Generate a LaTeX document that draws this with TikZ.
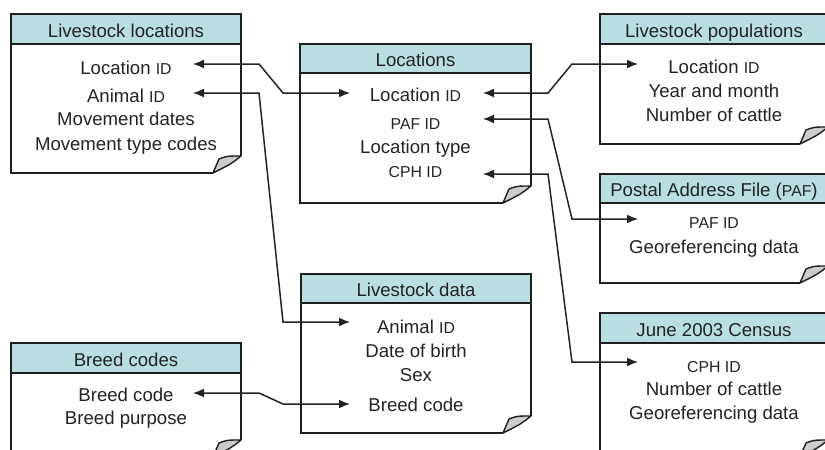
\documentclass[tikz,border=0pt]{standalone}
\usepackage{fontspec}
\setmainfont{Liberation Sans}
\usetikzlibrary{arrows.meta}
\definecolor{hdr}{RGB}{185,222,226}
\definecolor{bord}{RGB}{30,30,30}
\definecolor{ink}{RGB}{35,35,35}
\newcommand\sm[1]{{\fontsize{15.8}{16}\selectfont #1}}
\tikzset{
  boxline/.style={draw=bord, line width=2.1pt},
  row/.style={anchor=base, inner sep=0pt, font=\fontsize{18.6}{20}\selectfont, text=ink},
  link/.style={draw=ink, line width=1.5pt, {Latex[length=11pt,width=9pt]}-{Latex[length=11pt,width=9pt]}},
  foldflap/.style={fill=gray!40, draw=bord, line width=1.4pt, line join=round},
}
% #1 name, #2 L, #3 T, #4 R, #5 B, #6 header bottom, #7 title, #8 fold (1/0)
\newcommand\dbbox[8]{%
  \ifnum#8=1
    \fill[white] (#2,#3) -- (#4,#3) -- (#4,{#5-17}) -- ({#4-28},#5) -- (#2,#5) -- cycle;
  \else
    \fill[white] (#2,#3) rectangle (#4,#5);
  \fi
  \fill[hdr] (#2,#3) rectangle (#4,#6);
  \draw[boxline] (#2,#6) -- (#4,#6);
  \ifnum#8=1
    \draw[boxline, line join=miter] (#4,{#5-17}) -- (#4,#3) -- (#2,#3) -- (#2,#5) -- ({#4-28},#5);
    \filldraw[foldflap] ({#4-28},#5) -- ({#4-22},{#5-14}) .. controls ({#4-14},{#5-17}) .. (#4,{#5-17})
      .. controls ({#4-10},{#5-9}) .. ({#4-28},#5) -- cycle;
  \else
    \draw[boxline, line join=miter] (#2,#3) rectangle (#4,#5);
  \fi
  \node[row] (#1) at ({(#2+#4)/2},{#6-7}) {#7};
}
\begin{document}
\begin{tikzpicture}[x=1pt,y=-1pt]
\useasboundingbox (0,0) rectangle (825,450);

% Livestock locations
\dbbox{ll}{11}{14}{241}{173}{44}{Livestock locations}{1}
\node[row] (llLoc) at (126,74) {Location \sm{ID}};
\node[row] (llAni) at (126,102) {Animal \sm{ID}};
\node[row] (llMov) at (126,125) {Movement dates};
\node[row] (llTyp) at (126,150) {Movement type codes};

% Locations
\dbbox{loc}{300}{44}{531}{203}{73}{Locations}{1}
\node[row] (locLoc) at (415.5,101) {Location \sm{ID}};
\node[row] (locPaf) at (415.5,129) {\sm{PAF ID}};
\node[row] (locTyp) at (415.5,153) {Location type};
\node[row] (locCph) at (415.5,177) {\sm{CPH ID}};

% Livestock populations
\dbbox{pop}{600}{14}{828}{144}{44}{Livestock populations}{1}
\node[row] (popLoc) at (714,73) {Location \sm{ID}};
\node[row] (popYm) at (714,97) {Year and month};
\node[row] (popNum) at (714,121) {Number of cattle};

% Postal Address File
\dbbox{paf}{600}{174}{828}{283}{203}{Postal Address File (\sm{PAF})}{1}
\node[row] (pafId) at (714,228) {\sm{PAF ID}};
\node[row] (pafGeo) at (714,253) {Georeferencing data};

% June 2003 Census
\dbbox{cen}{600}{313}{828}{457}{343}{June 2003 Census}{1}
\node[row] (cenId) at (714,372) {\sm{CPH ID}};
\node[row] (cenNum) at (714,395) {Number of cattle};
\node[row] (cenGeo) at (714,419) {Georeferencing data};

% Livestock data
\dbbox{ld}{301}{274}{531}{433}{303}{Livestock data}{1}
\node[row] (ldAni) at (416,333) {Animal \sm{ID}};
\node[row] (ldDob) at (416,357) {Date of birth};
\node[row] (ldSex) at (416,381) {Sex};
\node[row] (ldBrd) at (416,411) {Breed code};

% Breed codes
\dbbox{bc}{11}{343}{241}{457}{373}{Breed codes}{1}
\node[row] (bcBrd) at (126,401) {Breed code};
\node[row] (bcPur) at (126,424) {Breed purpose};

% ports
\coordinate (pLlLoc) at (193,64);
\coordinate (pLlAni) at (193,93);
\coordinate (pLocLocW) at (350,93);
\coordinate (pLocLocE) at (483,93);
\coordinate (pLocPaf) at (483,119);
\coordinate (pLocCph) at (483,174);
\coordinate (pPopLoc) at (638,64);
\coordinate (pPafId) at (638,219);
\coordinate (pCenId) at (638,362);
\coordinate (pLdAni) at (350,322);
\coordinate (pLdBrd) at (350,404);
\coordinate (pBcBrd) at (193,393);

% connectors
\draw[link] (pLlLoc) -- (259,64) -- (283,93) -- (pLocLocW);
\draw[link] (pLlAni) -- (259,93) -- (283,322) -- (pLdAni);
\draw[link] (pLocLocE) -- (548,93) -- (572,64) -- (pPopLoc);
\draw[link] (pLocPaf) -- (548,119) -- (572,219) -- (pPafId);
\draw[link] (pLocCph) -- (548,174) -- (572,362) -- (pCenId);
\draw[link] (pBcBrd) -- (259,393) -- (283,404) -- (pLdBrd);
\end{tikzpicture}
\end{document}
